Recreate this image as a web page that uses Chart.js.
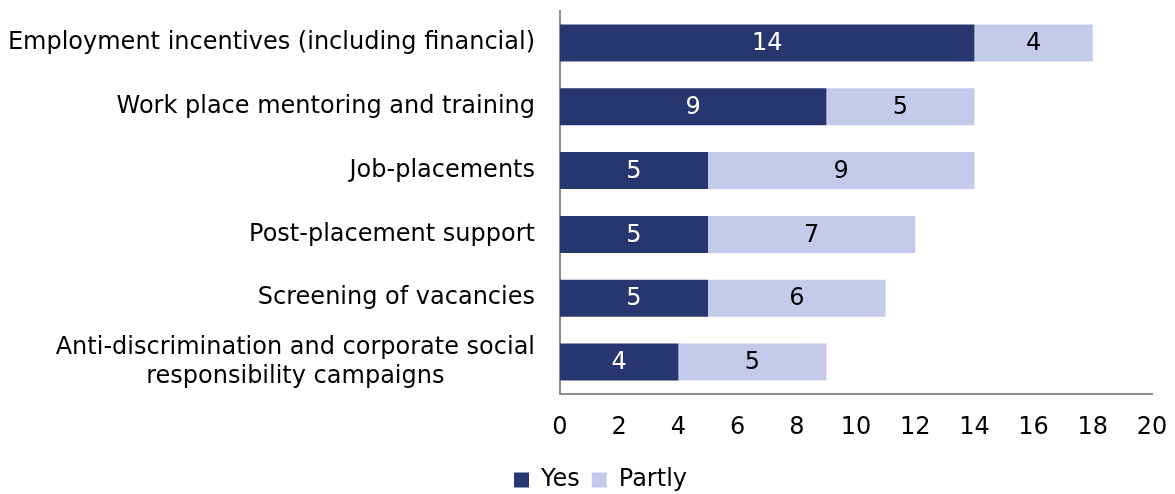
<!DOCTYPE html>
<html>
<head>
<meta charset="utf-8">
<script src="https://cdn.jsdelivr.net/npm/chart.js@4/dist/chart.umd.min.js"></script>
<style>
  html, body { margin: 0; padding: 0; background: #fff; }
  #wrap { width: 1175px; height: 494px; }
</style>
</head>
<body>
<div id="wrap"><canvas id="c" width="1175" height="494"></canvas></div>
<script>
const categories = [
  ["Employment incentives (including financial)"],
  ["Work place mentoring and training"],
  ["Job-placements"],
  ["Post-placement support"],
  ["Screening of vacancies"],
  ["Anti-discrimination and corporate social", "responsibility campaigns"]
];
const yesValues = [14, 9, 5, 5, 5, 4];
const partlyValues = [4, 5, 9, 7, 6, 5];
const seriesNames = ["Yes", "Partly"];
const xTicks = [0, 2, 4, 6, 8, 10, 12, 14, 16, 18, 20];

const FONT = "'DejaVu Sans', Verdana, sans-serif";
const FS = 24;
const DARK = '#27366F';
const LIGHT = '#C4CBEA';

const barLabels = {
  id: 'barLabels',
  afterDatasetsDraw(chart) {
    const ctx = chart.ctx;
    ctx.save();
    ctx.font = FS + 'px ' + FONT;
    ctx.textAlign = 'center';
    ctx.textBaseline = 'middle';
    chart.data.datasets.forEach((ds, di) => {
      const meta = chart.getDatasetMeta(di);
      meta.data.forEach((bar, i) => {
        const v = ds.data[i];
        if (!v) return;
        const x = (bar.x + bar.base) / 2;
        ctx.fillStyle = di === 0 ? '#ffffff' : '#000000';
        ctx.fillText(String(v), x, bar.y + 1);
      });
    });
    ctx.restore();
  }
};

const yLabels = {
  id: 'yLabels',
  afterDraw(chart) {
    const ctx = chart.ctx;
    const ys = chart.scales.y;
    const right = chart.chartArea.left - 25;
    ctx.save();
    ctx.font = FS + 'px ' + FONT;
    ctx.fillStyle = '#000000';
    ctx.textBaseline = 'middle';
    categories.forEach((lines, i) => {
      const yc = ys.getPixelForValue(i);
      const lh = 29;
      const widths = lines.map(l => ctx.measureText(l).width);
      const maxW = Math.max(...widths);
      const blockCenter = right - maxW / 2;
      lines.forEach((l, k) => {
        const y = yc + (k - (lines.length - 1) / 2) * lh;
        ctx.textAlign = 'center';
        ctx.fillText(l, blockCenter, y);
      });
    });
    ctx.restore();
  }
};

new Chart(document.getElementById('c'), {
  type: 'bar',
  data: {
    labels: categories.map(c => c.join(' ')),
    datasets: [
      { label: seriesNames[0], data: yesValues, backgroundColor: DARK, borderWidth: 0 },
      { label: seriesNames[1], data: partlyValues, backgroundColor: LIGHT, borderWidth: 0 }
    ]
  },
  options: {
    indexAxis: 'y',
    responsive: false,
    animation: false,
    devicePixelRatio: 1,
    layout: { padding: { top: 11, right: 23, left: 49, bottom: -8 } },
    datasets: { bar: { categoryPercentage: 1, barPercentage: 0.58 } },
    scales: {
      x: {
        stacked: true,
        min: 0, max: 20,
        afterBuildTicks(scale) { scale.ticks = xTicks.map(v => ({ value: v })); },
        grid: { display: false },
        border: { display: true, color: '#8c8c8c', width: 2 },
        ticks: { font: { family: FONT, size: FS }, color: '#000', padding: 11 },
        afterFit(scale) { scale.height = 62; scale.paddingRight = 0; scale.paddingLeft = 0; }
      },
      y: {
        stacked: true,
        grid: { display: false },
        border: { display: true, color: '#8c8c8c', width: 2 },
        ticks: { display: false },
        afterFit(scale) { scale.width = 511; }
      }
    },
    plugins: {
      legend: {
        position: 'bottom',
        labels: {
          font: { family: FONT, size: FS },
          color: '#000',
          boxWidth: 15, boxHeight: 15,
          padding: 12
        }
      },
      tooltip: { enabled: false }
    }
  },
  plugins: [barLabels, yLabels]
});
</script>
</body>
</html>
